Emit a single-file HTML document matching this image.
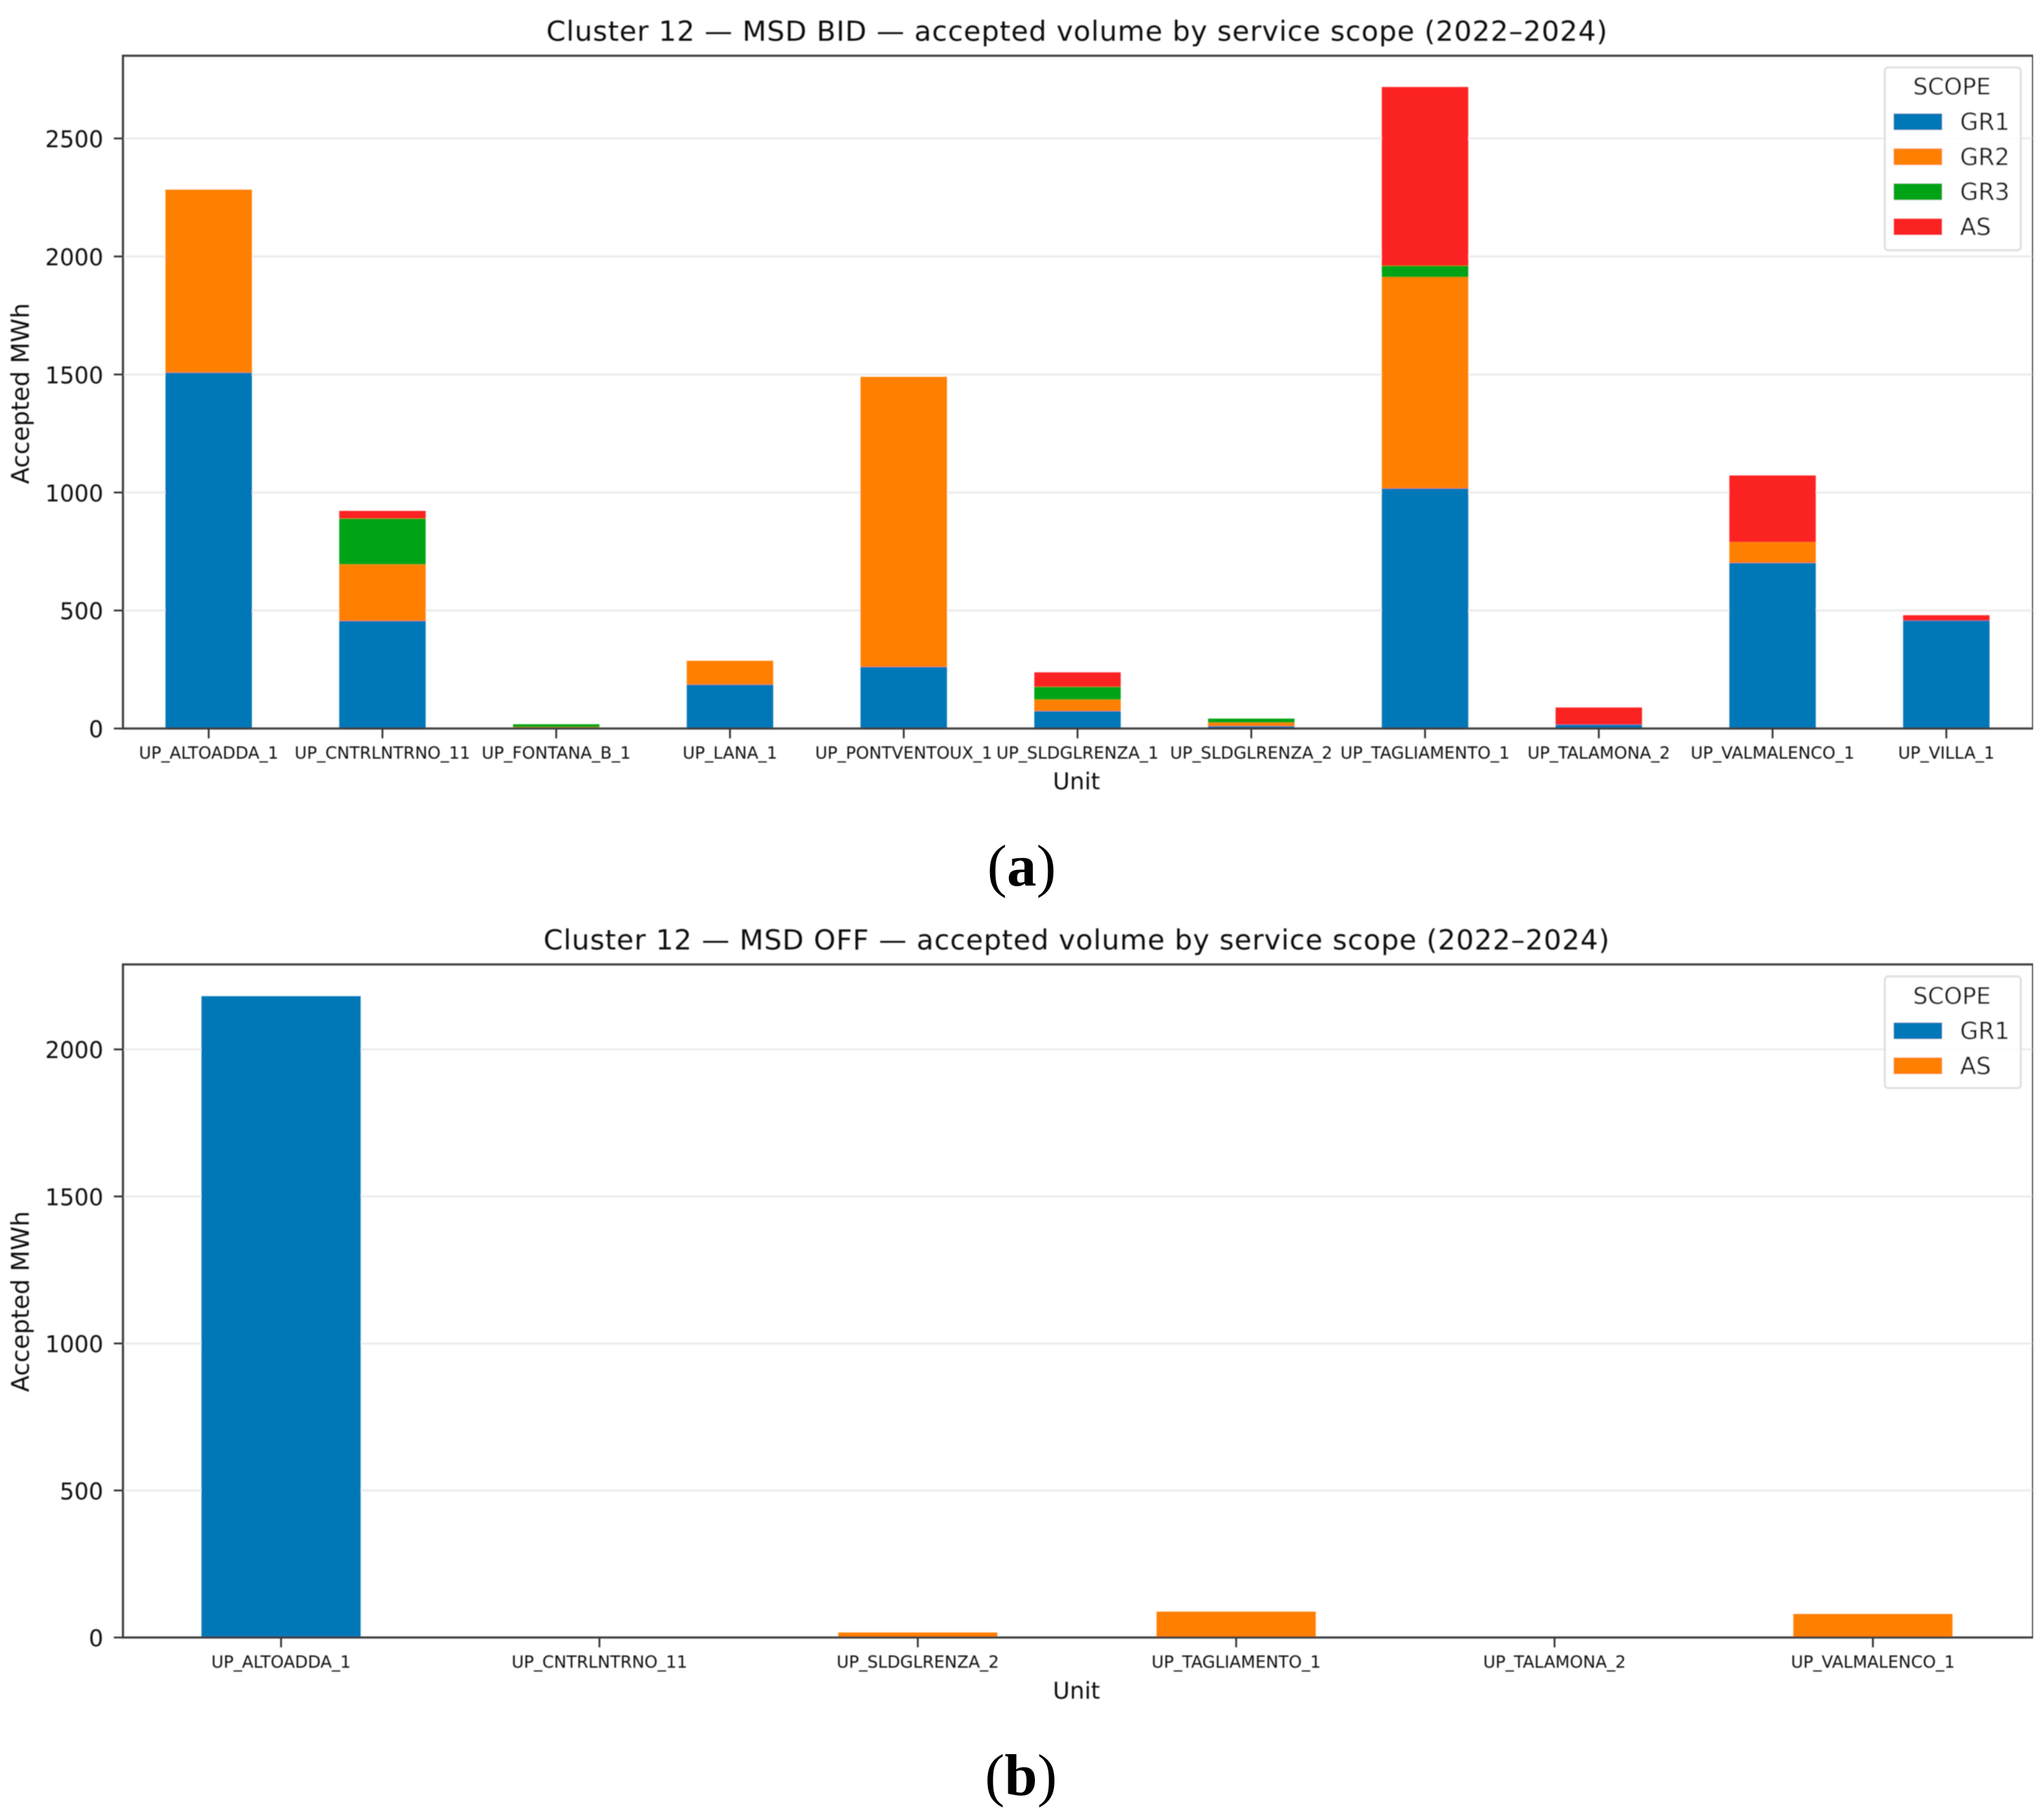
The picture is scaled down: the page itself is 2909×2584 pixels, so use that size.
<!DOCTYPE html>
<html lang="en">
<head>
<meta charset="utf-8">
<title>Cluster 12 — MSD accepted volume by service scope</title>
<style>
html,body{margin:0;padding:0;background:#fff;}
svg{display:block;}
text{font-family:"DejaVu Sans","Liberation Sans",sans-serif;fill:#111;}
text.caption{font-family:"Liberation Serif",serif;font-size:84px;fill:#000;text-anchor:middle;}
.caption-letter{font-weight:bold;}
</style>
</head>
<body>
<svg id="figure" xmlns="http://www.w3.org/2000/svg" width="2909" height="2584" viewBox="0 0 2909 2584">
  <defs><filter id="soft" x="0" y="0" width="100%" height="100%"><feGaussianBlur stdDeviation="0.7"/></filter></defs>
  <rect x="0" y="0" width="2909" height="2584" fill="#ffffff"/>
  <g filter="url(#soft)">
    <g id="panel-a">
      <text x="1532.5" y="58" font-size="39.5" text-anchor="middle" textLength="1510" lengthAdjust="spacing">Cluster 12 — MSD BID — accepted volume by service scope (2022–2024)</text>
      <text transform="translate(41,560) rotate(-90)" font-size="34.5" text-anchor="middle">Accepted MWh</text>
      <text x="1532" y="1123" font-size="33" text-anchor="middle">Unit</text>
    </g>
    <g id="panel-b">
      <text x="1532" y="1351" font-size="39.5" text-anchor="middle" textLength="1517" lengthAdjust="spacing">Cluster 12 — MSD OFF — accepted volume by service scope (2022–2024)</text>
      <text transform="translate(41,1852) rotate(-90)" font-size="34.5" text-anchor="middle">Accepted MWh</text>
      <text x="1532" y="2417" font-size="33" text-anchor="middle">Unit</text>
    </g>
  </g>
  <text class="caption" x="1454" y="1260">(<tspan class="caption-letter">a</tspan>)</text>
  <text class="caption" x="1453" y="2554">(<tspan class="caption-letter">b</tspan>)</text>
</svg>
<script>
// ---- Panel (a): MSD BID ----
const categoriesA = ["UP_ALTOADDA_1","UP_CNTRLNTRNO_11","UP_FONTANA_B_1","UP_LANA_1","UP_PONTVENTOUX_1","UP_SLDGLRENZA_1","UP_SLDGLRENZA_2","UP_TAGLIAMENTO_1","UP_TALAMONA_2","UP_VALMALENCO_1","UP_VILLA_1"];
const gr1A = [1508, 456, 3, 186, 261, 74, 10, 1017, 17, 702, 458];
const gr2A = [775, 239, 3, 101, 1229, 48, 15, 895, 0, 88, 0];
const gr3A = [0, 195, 12, 0, 0, 55, 17, 49, 0, 0, 0];
const asA = [0, 32, 0, 0, 0, 61, 0, 757, 72, 282, 22];
const yTicksA = [0, 500, 1000, 1500, 2000, 2500];
const legendLabelsA = ["GR1", "GR2", "GR3", "AS"];

// ---- Panel (b): MSD OFF ----
const categoriesB = ["UP_ALTOADDA_1","UP_CNTRLNTRNO_11","UP_SLDGLRENZA_2","UP_TAGLIAMENTO_1","UP_TALAMONA_2","UP_VALMALENCO_1"];
const gr1B = [2181, 0, 0, 0, 0, 0];
const asB = [0, 0, 17, 88, 0, 80];
const yTicksB = [0, 500, 1000, 1500, 2000];
const legendLabelsB = ["GR1", "AS"];

const BLUE = "#0077b7", ORANGE = "#ff7f00", GREEN = "#00a314", RED = "#fb2022";
const NS = "http://www.w3.org/2000/svg";
const LEFT = 175, RIGHT = 2893.5;

function makeEl(tag, parent, props, content) {
  const el = document.createElementNS(NS, tag);
  for (const k in props) el.setAttribute(k, props[k]);
  if (content !== undefined) el.textContent = content;
  parent.appendChild(el);
  return el;
}

// Axis functions
function yScaleA(v) { return 1036.6 - v * 0.33584; }
function xScaleA(i) { return 297 + 247.3 * i; }
function yScaleB(v) { return 2330 - v * 0.4184; }
function xScaleB(i) { return 400 + 453.1 * i; }

function drawPanel(root, cfg) {
  const y0 = cfg.y(0);

  // gridlines
  cfg.ticks.forEach(function (t) {
    if (t === 0) return;
    const g = makeEl("line", root, {x1: LEFT, x2: RIGHT, y1: cfg.y(t), y2: cfg.y(t), stroke: "#ececec", "stroke-width": 3});
    
    
  });

  // stacked bars
  cfg.categories.forEach(function (cat, i) {
    let base = 0;
    cfg.series.forEach(function (s) {
      const v = s.values[i];
      if (v > 0) {
        const top = cfg.y(base + v), bottom = cfg.y(base);
        const bar = makeEl("rect", root, {x: cfg.x(i) - cfg.barWidth / 2, y: top, width: cfg.barWidth, height: bottom - top, fill: s.color});
        
        
      }
      base += v;
    });
  });

  // y ticks and labels
  cfg.ticks.forEach(function (t) {
    const mark = makeEl("line", root, {x1: 162, x2: LEFT, y1: cfg.y(t), y2: cfg.y(t), stroke: "#2a2a2a", "stroke-width": 2.5});
    
    
    const label = makeEl("text", root, {x: 147, y: cfg.y(t) + 12.5, "font-size": 32.5, "text-anchor": "end"}, String(t));
    
    
  });

  // x ticks and labels
  cfg.categories.forEach(function (cat, i) {
    const mark = makeEl("line", root, {x1: cfg.x(i), x2: cfg.x(i), y1: y0, y2: y0 + 14, stroke: "#2a2a2a", "stroke-width": 2.5});
    
    
    const label = makeEl("text", root, {x: cfg.x(i), y: y0 + 43, "font-size": 23.8, "text-anchor": "middle"}, cat);
    
    
  });

  // axes frame
  const frame = makeEl("rect", root, {x: LEFT, y: cfg.top, width: RIGHT - LEFT, height: y0 - cfg.top, fill: "none", stroke: "#3a3a3a", "stroke-width": 3});
  
  

  // legend
  const lg = makeEl("g", root, {});
  
  
  const box = makeEl("rect", lg, {x: 2682.5, y: cfg.legend.top, width: 193.5, height: cfg.legend.height, rx: 5, fill: "#ffffff", "fill-opacity": 0.82, stroke: "#e0e0e0", "stroke-width": 3});
  
  
  const title = makeEl("text", lg, {x: 2778, y: cfg.legend.titleY + 12, "font-size": 33, "text-anchor": "middle"}, "SCOPE");
  
  
  cfg.legend.labels.forEach(function (name, i) {
    const cy = cfg.legend.firstY + i * cfg.legend.step;
    const patch = makeEl("rect", lg, {x: 2695, y: cy - 11.5, width: 69, height: 23.5, fill: cfg.series[i].color});
    
    
    const text = makeEl("text", lg, {x: 2789.5, y: cy + 12, "font-size": 33.5}, name);
    
    
  });
}

drawPanel(document.getElementById("panel-a"), {
  categories: categoriesA,
  ticks: yTicksA,
  x: xScaleA, y: yScaleA, top: 79.3, barWidth: 123,
  series: [
    {name: "GR1", values: gr1A, color: BLUE},
    {name: "GR2", values: gr2A, color: ORANGE},
    {name: "GR3", values: gr3A, color: GREEN},
    {name: "AS", values: asA, color: RED}
  ],
  legend: {top: 96, height: 260, titleY: 122.5, firstY: 173, step: 49.8, labels: legendLabelsA}
});

drawPanel(document.getElementById("panel-b"), {
  categories: categoriesB,
  ticks: yTicksB,
  x: xScaleB, y: yScaleB, top: 1372.3, barWidth: 226.5,
  series: [
    {name: "GR1", values: gr1B, color: BLUE},
    {name: "AS", values: asB, color: ORANGE}
  ],
  legend: {top: 1389.3, height: 159, titleY: 1416.5, firstY: 1466.5, step: 49.8, labels: legendLabelsB}
});
</script>
</body>
</html>
